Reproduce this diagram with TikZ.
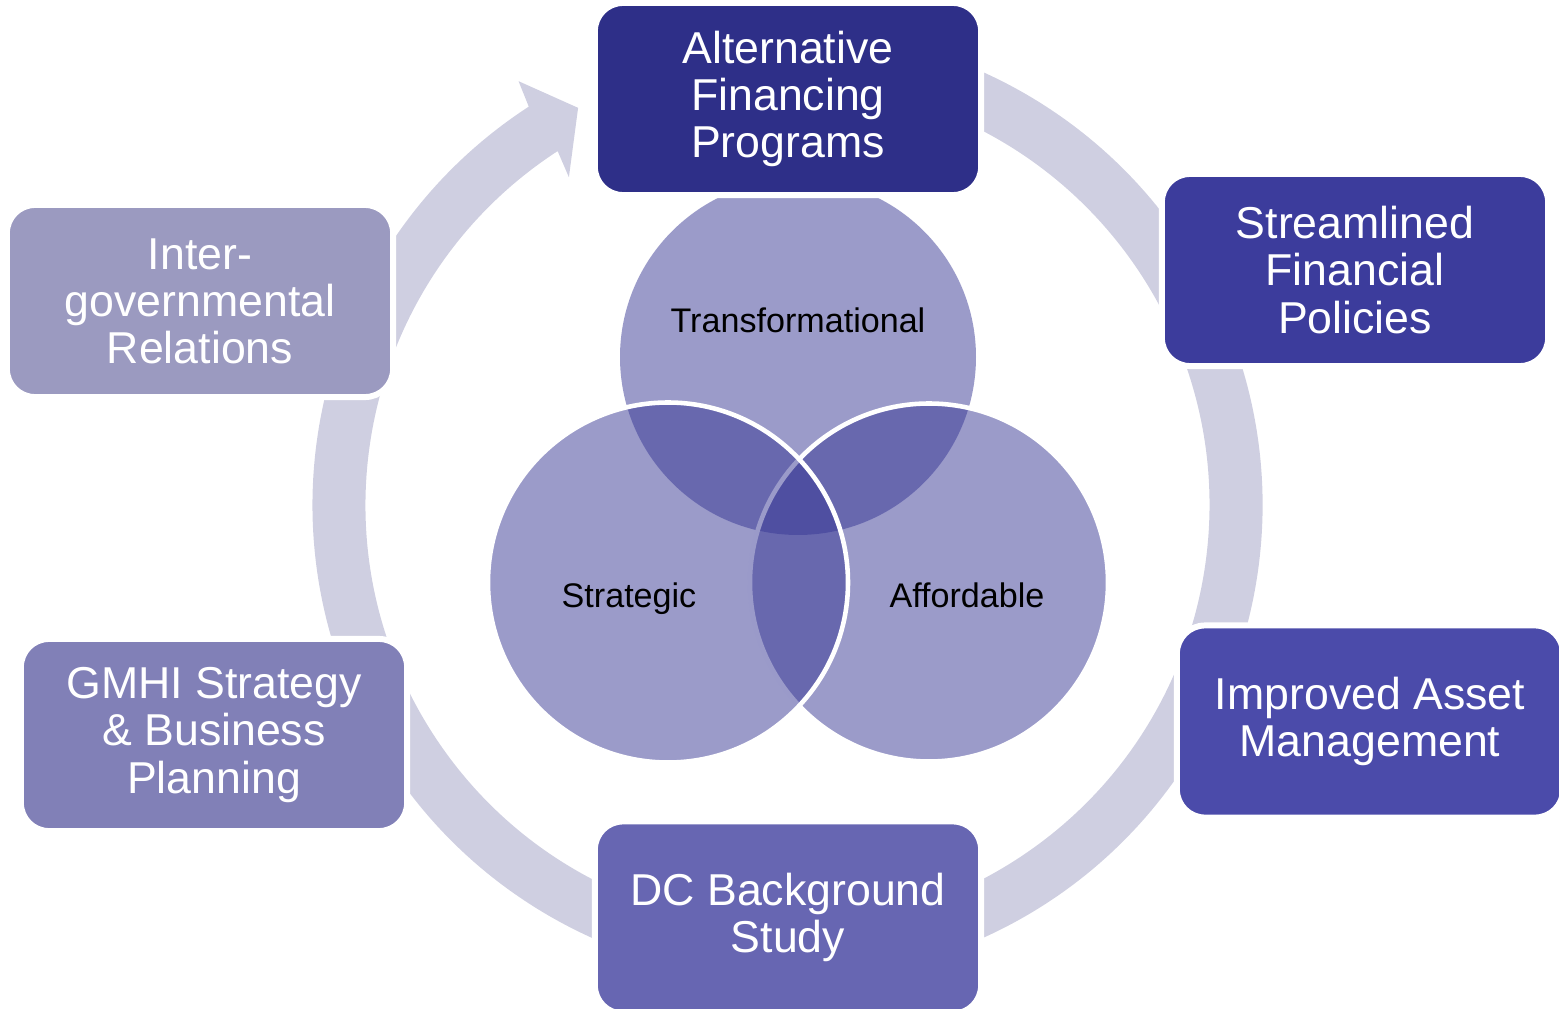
\documentclass[tikz,border=0pt]{standalone}
\usepackage{fontspec}
\setmainfont{Liberation Sans}

\definecolor{ringgray}{RGB}{207,207,225}
\definecolor{vennblue}{RGB}{55,55,148}
\definecolor{stepA}{RGB}{46,47,136}
\definecolor{stepB}{RGB}{60,60,156}
\definecolor{stepC}{RGB}{75,75,170}
\definecolor{stepD}{RGB}{103,102,178}
\definecolor{stepE}{RGB}{129,128,183}
\definecolor{stepF}{RGB}{155,154,192}

\tikzset{
  stage/.style={rectangle, rounded corners=8pt, draw=white, line width=1.7pt,
    minimum width=3.86cm, minimum height=1.92cm, inner sep=0pt, align=center,
    text=white, font=\fontsize{12.7}{13.4}\selectfont},
  venn/.style={fill=vennblue, fill opacity=0.5, draw=white, line width=1.3pt},
  vennlabel/.style={inner sep=0pt, text=black, font=\fontsize{9.7}{11}\selectfont}
}

\begin{document}
\begin{tikzpicture}[x=0.01cm, y=-0.01cm]
		%%%%% START %%%%%
		\useasboundingbox (0, 0) rectangle (1559, 1009);
		
		% cycle ring with the arrow head in front of the first stage
		\begin{scope}[shift={(787.5, 505)}]
			\fill[ringgray] (-111:475) arc[start angle=-111, end angle=237, radius=475]
				-- (-122.4:502) -- (-117.8:449) -- (-123.7:394)
				-- (237:422) arc[start angle=237, end angle=-111, radius=422] -- cycle;
		\end{scope}
		
		% three circles
		\fill[vennblue, fill opacity=0.5] (798, 357) circle (178);
		\draw[venn] (929, 582.5) circle (179);
		\draw[venn] (668, 582.5) circle (180);
		
		\node[vennlabel] (transf) at (798, 320) {Transformational};
		\node[vennlabel] (strat) at (629, 599) {Strategic};
		\node[vennlabel] (afford) at (967, 595) {Affordable};
		
		% stages
		\node[stage, fill=stepA] (altfin) at (788, 99) {Alternative\\Financing\\Programs};
		\node[stage, fill=stepB] (stream) at (1355, 270) {Streamlined\\Financial\\Policies};
		\node[stage, fill=stepC] (asset) at (1370, 721.5) {Improved Asset\\Management};
		\node[stage, fill=stepD] (dcstudy) at (788, 917.5) {DC Background\\Study};
		\node[stage, fill=stepE] (gmhi) at (214, 735) {GMHI Strategy\\\& Business\\Planning};
		\node[stage, fill=stepF] (intergov) at (200, 301) {Inter-\\governmental\\Relations};
		
		%%%%% END %%%%%
\end{tikzpicture}
\end{document}
